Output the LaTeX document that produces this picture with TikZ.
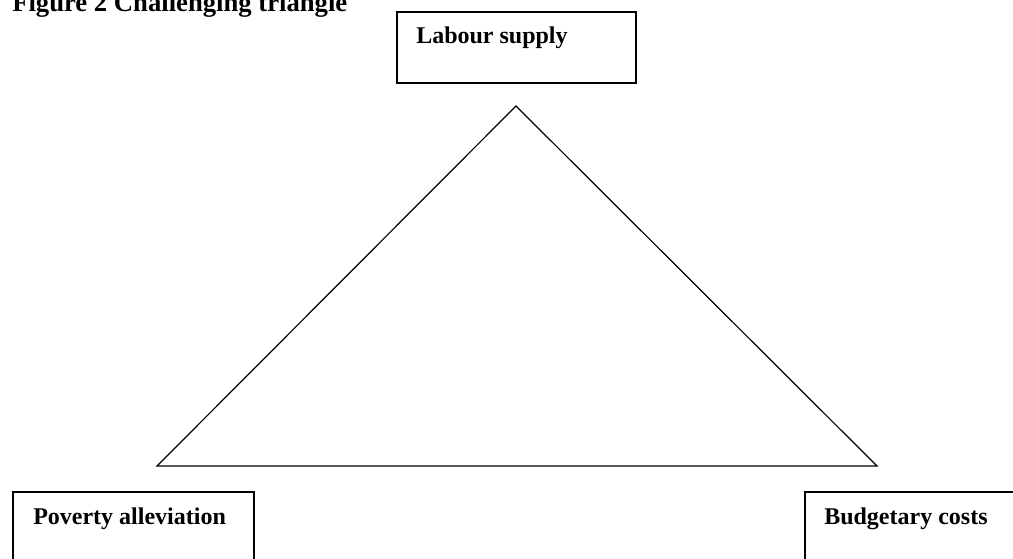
\documentclass[tikz,border=0pt]{standalone}
\usepackage{fontspec}
\setmainfont{Liberation Serif}
\usetikzlibrary{positioning}

\tikzset{
  box/.style={draw, line width=1.4pt, rectangle, anchor=north west, inner sep=0pt},
  boxtext/.style={anchor=base west, inner sep=0pt, font=\fontsize{18}{21}\selectfont\bfseries},
  side/.style={line width=0.9pt, line join=miter}
}

\begin{document}
\begin{tikzpicture}[x=0.75pt, y=-0.75pt]
  \useasboundingbox (0,0) rectangle (1013,558);
  \clip (0,0) rectangle (1013,558);

  % Title
  \node[anchor=base west, inner sep=0pt, font=\fontsize{20}{24}\selectfont\bfseries] (title) at (12,11) {Figure 2 Challenging triangle};

  % Boxes
  \node[box, minimum width=179.25pt, minimum height=53.25pt] (labour) at (396,11) {};
  \node[boxtext] (labourtxt) at (416,43) {Labour supply};

  \node[box, minimum width=180.75pt, minimum height=60pt] (poverty) at (12,491) {};
  \node[boxtext] (povertytxt) at (33,524) {Poverty alleviation};

  \node[box, minimum width=165pt, minimum height=60pt] (budget) at (804,491) {};
  \node[boxtext] (budgettxt) at (824,524) {Budgetary costs};

  % Triangle
  \coordinate (top) at (516,106);
  \coordinate (left) at (157,466);
  \coordinate (right) at (877,466);
  \draw[side] (top) -- (right) -- (left) -- cycle;
\end{tikzpicture}
\end{document}
